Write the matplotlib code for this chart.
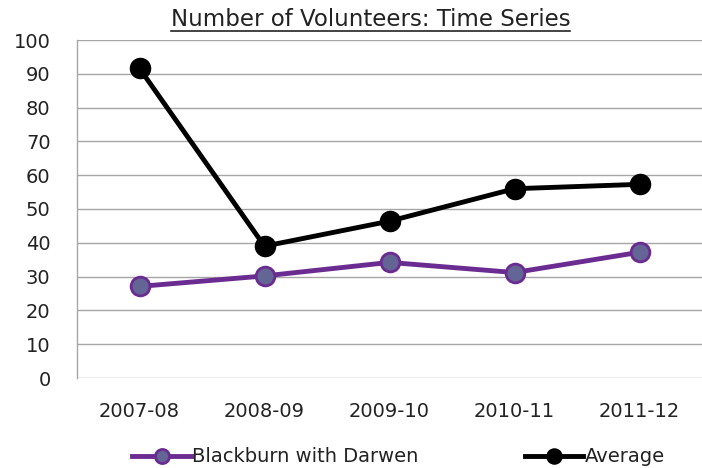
import matplotlib
matplotlib.use("Agg")
import matplotlib.pyplot as plt
from matplotlib.lines import Line2D

categories = ["2007-08", "2008-09", "2009-10", "2010-11", "2011-12"]
blackburn = [27.1, 30.2, 34.2, 31.2, 37.2]
average = [91.6, 39.0, 46.4, 56.0, 57.3]
yticks = [0, 10, 20, 30, 40, 50, 60, 70, 80, 90, 100]
title = "Number of Volunteers: Time Series"

plt.rcParams['font.family'] = ['DejaVu Sans']

fig = plt.figure(figsize=(7.02, 4.68), dpi=100)
ax = fig.add_axes([77/702, 1 - 378/468, 625/702, (378 - 40)/468])

x = list(range(len(categories)))
ax.plot(x, blackburn, color="#6B2C91", lw=3.5, marker="o", ms=13.5,
        mfc="#636594", mec="#6B2C91", mew=2, label="Blackburn with Darwen", zorder=3)
ax.plot(x, average, color="black", lw=3.5, marker="o", ms=14.5,
        mfc="black", mec="black", label="Average", zorder=4)

ax.set_xlim(-0.5, len(categories) - 0.5)
ax.set_ylim(0, 100)
ax.set_yticks(yticks)
ax.set_xticks(x)
ax.set_xticklabels(categories)
ax.tick_params(axis="both", length=0, labelsize=14, colors="#222222")
ax.tick_params(axis="x", pad=17)
ax.tick_params(axis="y", pad=19)
ax.grid(axis="y", color="#A6A6A6", lw=1)
ax.set_axisbelow(True)
for s in ["top", "right", "bottom"]:
    ax.spines[s].set_visible(False)
ax.spines["left"].set_color("#A6A6A6")
ax.spines["left"].set_linewidth(1)

t = fig.text(370.5/702, 1 - 20/468, title, ha="center", va="center", fontsize=16.5, color="#222222")
fig.canvas.draw()
bb = t.get_window_extent()
fig.add_artist(Line2D([bb.x0 / 702, bb.x1 / 702], [(bb.y0 + 1) / 468, (bb.y0 + 1) / 468],
                      color="#222222", lw=1.2, transform=fig.transFigure))

leg = fig.legend(loc="center", bbox_to_anchor=(398.5/702, 1 - 457/468), ncol=2, frameon=False,
                 fontsize=14, handlelength=3.0, handletextpad=0.05, columnspacing=5.5,
                 markerscale=0.75, borderpad=0, borderaxespad=0)
for txt in leg.get_texts():
    txt.set_color("#222222")

fig.savefig("out.png", dpi=100)
